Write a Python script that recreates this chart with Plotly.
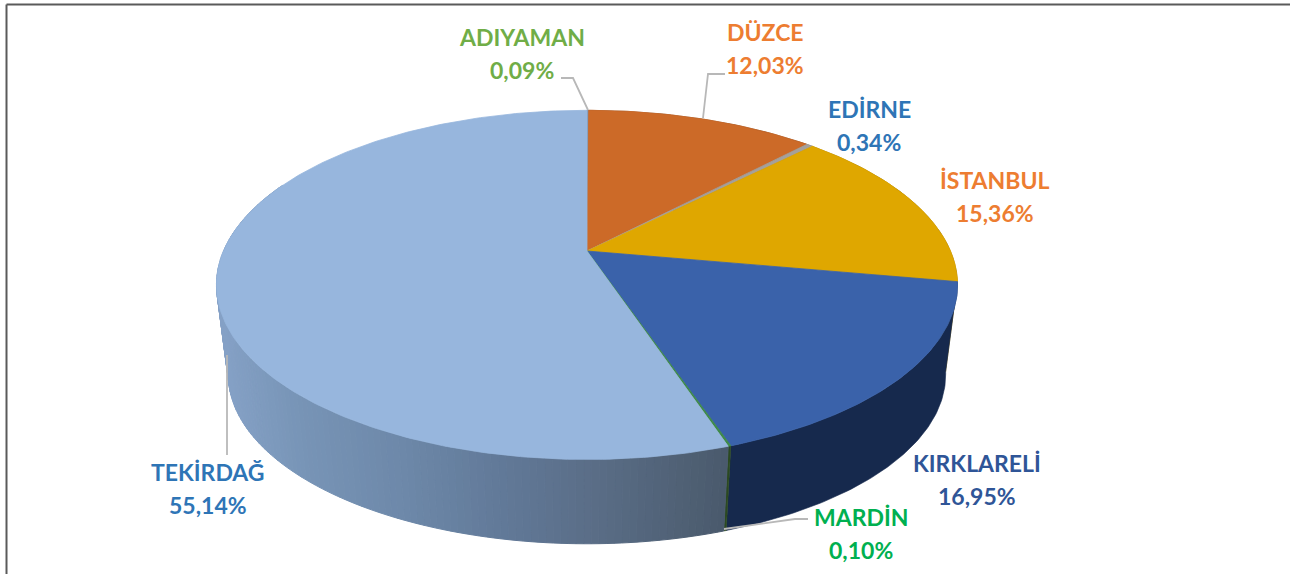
import math
import plotly.graph_objects as go

categories = ["ADIYAMAN", "DÜZCE", "EDİRNE", "İSTANBUL", "KIRKLARELİ", "MARDİN", "TEKİRDAĞ"]
shares = [0.09, 12.03, 0.34, 15.36, 16.95, 0.10, 55.14]
share_labels = ["0,09%", "12,03%", "0,34%", "15,36%", "16,95%", "0,10%", "55,14%"]

face_colors = ["#7f93ad", "#cc6a28", "#a5a09a", "#dfa700", "#3a62aa", "#3f8a4a", "#97b6dd"]
wall_colors = ["#4a5a70", "#7a3f18", "#666666", "#8a6800", "#16294d", "#2c4a22", None]
label_colors = ["#70ad47", "#ed7d31", "#2e75b6", "#ed7d31", "#2f5597", "#00b050", "#2e75b6"]
label_xy = [(522, 37), (765, 32), (869, 109), (995, 180), (977, 463), (861, 517), (208, 472)]
LINE_GAP = 33
leaders = [
    [(561, 78), (573, 78), (588, 110)],
    [(725, 74), (708, 74), (703, 118)],
    [(808, 519), (795, 519), (724, 529)],
    [(227, 355), (227, 455)],
]

CX, CY = 587.0, 251.0          # apex of the pie on the page
A, B, K = 168.0, 363.5, 0.194  # perspective of the disc
DEPTH, SHRINK = 91.0, 0.968    # wall height and narrowing of the lower rim
gradient = [(225, (133, 161, 198)), (300, (120, 149, 183)), (400, (110, 137, 170)),
            (500, (98, 122, 153)), (600, (90, 109, 134)), (728, (74, 90, 108))]


def rim(theta_deg, lower=False):
    t = math.radians(theta_deg)
    X, Y = math.sin(t), math.cos(t)
    w = 1 + K * Y
    px, py = B * X / w, -A * Y / w
    if lower:
        return CX + SHRINK * px, CY + DEPTH + SHRINK * py
    return CX + px, CY + py


def steps(a, b, d=0.75):
    n = max(2, int(abs(b - a) / d) + 2)
    return [a + (b - a) * i / (n - 1) for i in range(n)]


def gradient_color(x):
    g = gradient
    if x <= g[0][0]:
        return "rgb(%d,%d,%d)" % g[0][1]
    for (x0, c0), (x1, c1) in zip(g, g[1:]):
        if x <= x1:
            f = (x - x0) / (x1 - x0)
            return "rgb(%d,%d,%d)" % tuple(c0[i] + (c1[i] - c0[i]) * f for i in range(3))
    return "rgb(%d,%d,%d)" % g[-1][1]


def poly(fig, pts, color, name, lw=0.6, lc=None):
    xs = [p[0] for p in pts] + [pts[0][0]]
    ys = [p[1] for p in pts] + [pts[0][1]]
    fig.add_trace(go.Scatter(x=xs, y=ys, mode="lines", fill="toself", fillcolor=color,
                             line=dict(color=lc or color, width=lw), hoverinfo="skip",
                             showlegend=False, name=name))


fig = go.Figure()

total = sum(shares)
edges = [0.0]
for v in shares:
    edges.append(edges[-1] + v / total * 360.0)

# side walls, back to front
for i in range(len(shares)):
    a, b = edges[i], edges[i + 1]
    if wall_colors[i] is not None:
        ang = steps(a, b)
        pts = [rim(t) for t in ang] + [rim(t, True) for t in reversed(ang)]
        poly(fig, pts, wall_colors[i], categories[i])
    else:
        end = min(b, 295.0)
        ang = steps(a, end, 1.0)
        for t0, t1 in zip(ang, ang[1:]):
            pts = [rim(t0), rim(t1), rim(t1, True), rim(t0, True)]
            x_mid = sum(p[0] for p in pts) / 4
            poly(fig, pts, gradient_color(x_mid), categories[i], lw=1)

# top faces
for i in range(len(shares)):
    ang = steps(edges[i], edges[i + 1])
    pts = [(CX, CY)] + [rim(t) for t in ang]
    poly(fig, pts, face_colors[i], categories[i], lw=0.8)

annotations = []
for name, pct, col, (x, y) in zip(categories, share_labels, label_colors, label_xy):
    for txt, yy in ((name, y), (pct, y + LINE_GAP)):
        annotations.append(dict(x=x, y=yy, xref="x", yref="y", text="<b>%s</b>" % txt, showarrow=False,
                                xanchor="center", yanchor="middle",
                                font=dict(family="Lato", size=23, color=col)))

shapes = [dict(type="path", xref="x", yref="y",
               path="M" + " L".join("%d,%d" % p for p in seg),
               line=dict(color="#b8b8b8", width=1.8)) for seg in leaders]
shapes.append(dict(type="line", xref="x", yref="y", x0=6.5, x1=1290, y0=4.5, y1=4.5,
                   line=dict(color="#5a5a5a", width=2)))
shapes.append(dict(type="line", xref="x", yref="y", x0=6.5, x1=6.5, y0=4.5, y1=574,
                   line=dict(color="#5a5a5a", width=2)))

fig.update_layout(width=1290, height=574, margin=dict(l=0, r=0, t=0, b=0),
                  paper_bgcolor="white", plot_bgcolor="white", showlegend=False,
                  annotations=annotations, shapes=shapes,
                  xaxis=dict(range=[0, 1290], visible=False, fixedrange=True),
                  yaxis=dict(range=[574, 0], visible=False, fixedrange=True))
fig.write_html("out.html", post_script="document.body.style.margin='0';document.body.style.overflow='hidden';",
               config=dict(displayModeBar=False))
